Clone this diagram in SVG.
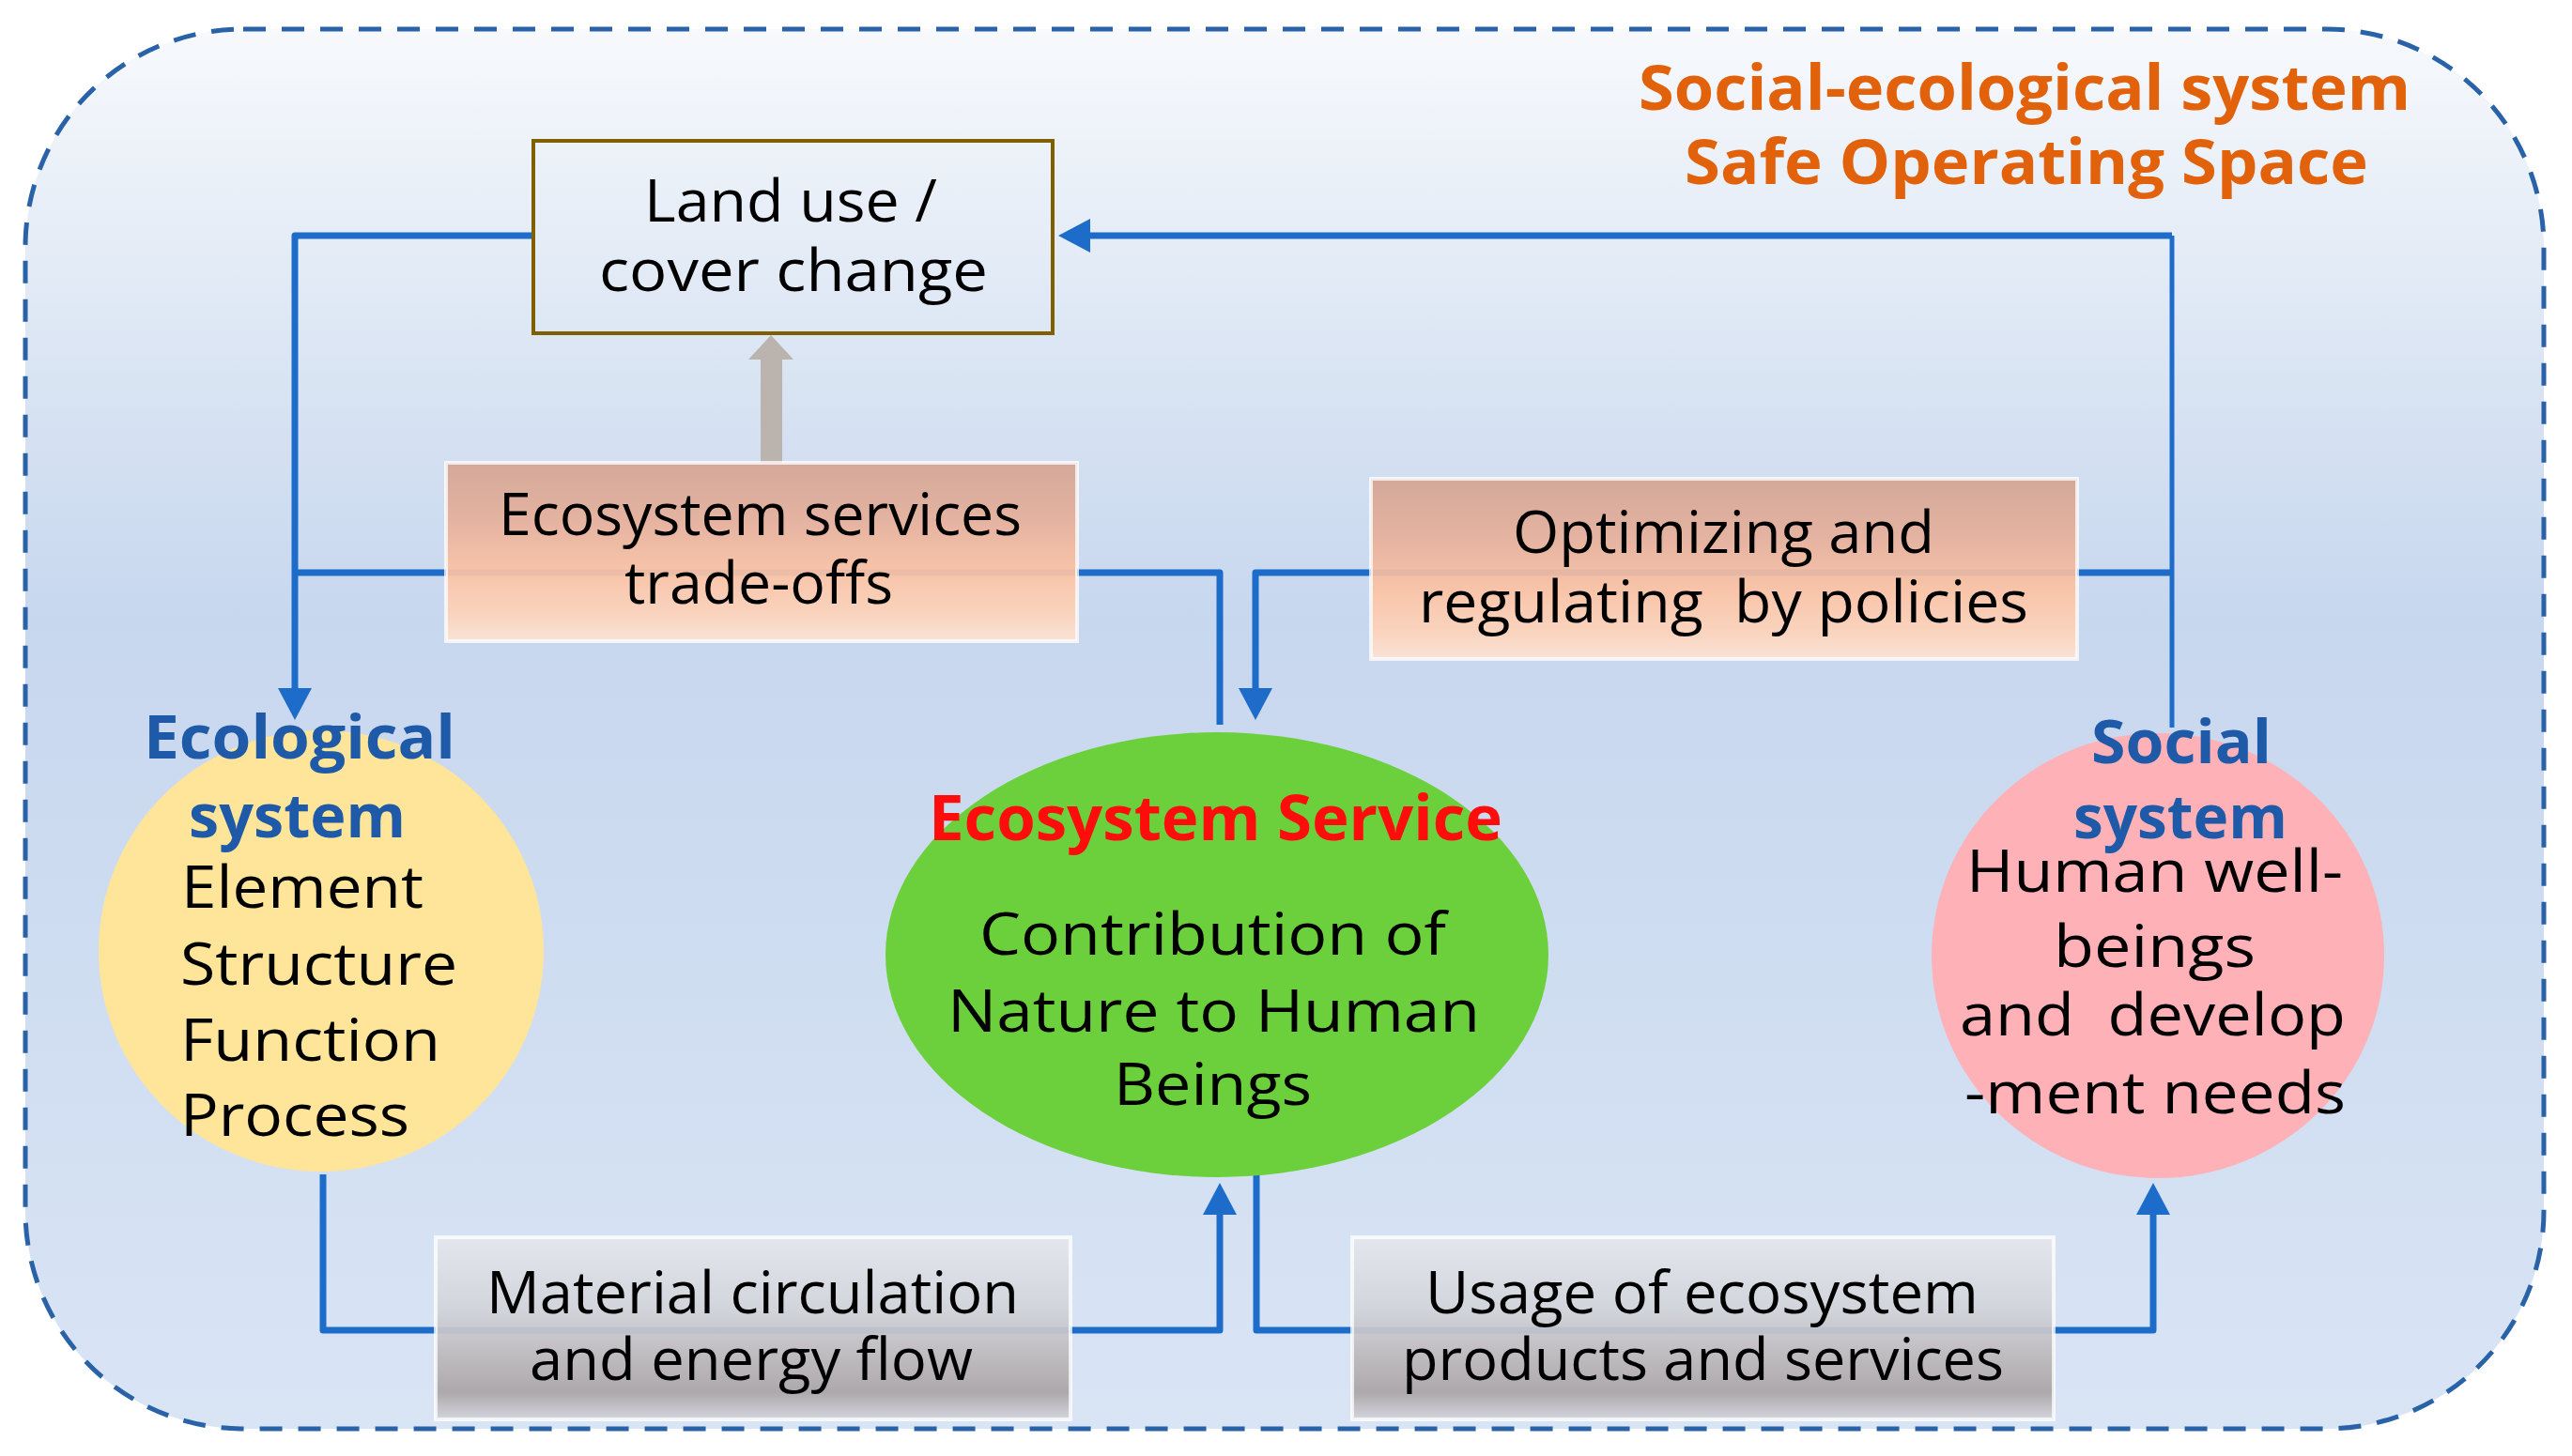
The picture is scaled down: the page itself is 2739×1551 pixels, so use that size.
<svg xmlns="http://www.w3.org/2000/svg" width="2739" height="1551" viewBox="0 0 2739 1551">
<style>
  .t { font-family: "Open Sans", "Noto Sans", "DejaVu Sans", sans-serif; font-size: 62px; fill: #000; }
  .hb { font-family: "Open Sans", "Noto Sans", "DejaVu Sans", sans-serif; font-size: 64px; font-weight: bold; fill: #1f5aa8; }
  .red { font-family: "Open Sans", "Noto Sans", "DejaVu Sans", sans-serif; font-size: 66px; font-weight: bold; fill: #ff0d0d; }
  .org { font-family: "Open Sans", "Noto Sans", "DejaVu Sans", sans-serif; font-size: 67px; font-weight: bold; fill: #e2620c; }
  .ln { fill: none; stroke: #1d6cca; stroke-width: 7; stroke-linejoin: round; }
  .ln5 { fill: none; stroke: #1d6cca; stroke-width: 5; stroke-linejoin: round; }
  .peach { fill: url(#gPeach); stroke: #ffffff; stroke-opacity: 0.75; stroke-width: 4; }
  .gray { fill: url(#gGray); stroke: #ffffff; stroke-opacity: 0.75; stroke-width: 4; }
</style>
<defs>
  <linearGradient id="gBg" gradientUnits="userSpaceOnUse" x1="0" y1="31" x2="0" y2="1522">
    <stop offset="0" stop-color="#f7f9fc"/>
    <stop offset="0.25" stop-color="#d9e4f3"/>
    <stop offset="0.42" stop-color="#c7d7ee"/>
    <stop offset="0.6" stop-color="#cddbf0"/>
    <stop offset="1" stop-color="#d9e5f5"/>
  </linearGradient>
  <linearGradient id="gPeach" x1="0" y1="0" x2="0" y2="1">
    <stop offset="0" stop-color="#d3a494" stop-opacity="0.93"/>
    <stop offset="0.35" stop-color="#e8b19b" stop-opacity="0.93"/>
    <stop offset="0.62" stop-color="#fcc3a4" stop-opacity="0.93"/>
    <stop offset="0.85" stop-color="#fdd3ba" stop-opacity="0.93"/>
    <stop offset="1" stop-color="#fde4d5" stop-opacity="0.93"/>
  </linearGradient>
  <linearGradient id="gGray" x1="0" y1="0" x2="0" y2="1">
    <stop offset="0" stop-color="#e4e7ed" stop-opacity="0.93"/>
    <stop offset="0.4" stop-color="#d1d3d9" stop-opacity="0.93"/>
    <stop offset="0.58" stop-color="#c3c0c4" stop-opacity="0.93"/>
    <stop offset="0.85" stop-color="#aaa4a5" stop-opacity="0.93"/>
    <stop offset="1" stop-color="#d2d4dc" stop-opacity="0.93"/>
  </linearGradient>
  <marker id="ah" markerUnits="userSpaceOnUse" markerWidth="36" markerHeight="36" refX="0" refY="18" orient="auto" viewBox="0 0 34 36">
    <path d="M0,0 L34,18 L0,36 Z" fill="#1d6cca"/>
  </marker>
</defs>

<g id="container">
  <rect x="27" y="31" width="2682" height="1491" rx="232" ry="232" fill="url(#gBg)" stroke="#2a62a8" stroke-width="5" stroke-dasharray="24 17"/>
</g>

<g id="connectors">
  <path class="ln" d="M568,251 H314 V733" marker-end="url(#ah)"/>
  <path class="ln" d="M314,610 H1299 V772"/>
  <path class="ln" d="M2313,610 H1337 V733" marker-end="url(#ah)"/>
  <path class="ln" d="M2313,251 H1161" marker-end="url(#ah)"/>
  <path class="ln5" d="M2313,775 V251"/>
  <path class="ln" d="M344,1251 V1417 H1299 V1294" marker-end="url(#ah)"/>
  <path class="ln" d="M1338,1252 V1417 H2293 V1294" marker-end="url(#ah)"/>
  <g id="gray-arrow" fill="#bbb3ae">
    <rect x="810" y="381" width="23" height="112"/>
    <polygon points="797,383 845,383 821,357"/>
  </g>
</g>

<g id="title">
  <text class="org" x="1745" y="117" textLength="822" lengthAdjust="spacingAndGlyphs">Social-ecological system</text>
  <text class="org" x="1794" y="196" textLength="728" lengthAdjust="spacingAndGlyphs">Safe Operating Space</text>
</g>

<g id="land-use">
  <rect x="568" y="150" width="553" height="205" fill="none" stroke="#7f5f00" stroke-width="4"/>
  <text class="t" x="686" y="236" textLength="312" lengthAdjust="spacingAndGlyphs">Land use /</text>
  <text class="t" x="638" y="310" textLength="414" lengthAdjust="spacingAndGlyphs">cover change</text>
</g>

<g id="tradeoffs">
  <rect class="peach" x="475" y="493" width="672" height="190"/>
  <text class="t" x="531" y="570" textLength="557" lengthAdjust="spacingAndGlyphs">Ecosystem services</text>
  <text class="t" x="665" y="643" textLength="286" lengthAdjust="spacingAndGlyphs">trade-offs</text>
</g>

<g id="policies">
  <rect class="peach" x="1460" y="510" width="752" height="192"/>
  <text class="t" x="1611" y="589" textLength="449" lengthAdjust="spacingAndGlyphs">Optimizing and</text>
  <text class="t" x="1511" y="663" textLength="649" lengthAdjust="spacingAndGlyphs" xml:space="preserve">regulating  by policies</text>
</g>

<g id="ecological">
  <ellipse cx="342" cy="1013" rx="237" ry="235" fill="#fee59a"/>
  <text class="hb" x="153" y="808" textLength="332" lengthAdjust="spacingAndGlyphs">Ecological</text>
  <text class="hb" x="201" y="892" textLength="231" lengthAdjust="spacingAndGlyphs">system</text>
  <text class="t" x="193" y="967" textLength="258" lengthAdjust="spacingAndGlyphs">Element</text>
  <text class="t" x="192" y="1049" textLength="295" lengthAdjust="spacingAndGlyphs">Structure</text>
  <text class="t" x="192" y="1130" textLength="277" lengthAdjust="spacingAndGlyphs">Function</text>
  <text class="t" x="192" y="1210" textLength="244" lengthAdjust="spacingAndGlyphs">Process</text>
</g>

<g id="ecosystem-service">
  <ellipse cx="1296" cy="1017" rx="353" ry="237" fill="#6cd03c"/>
  <text class="red" x="989" y="895" textLength="611" lengthAdjust="spacingAndGlyphs">Ecosystem Service</text>
  <text class="t" x="1043" y="1017" textLength="497" lengthAdjust="spacingAndGlyphs">Contribution of</text>
  <text class="t" x="1009" y="1099" textLength="567" lengthAdjust="spacingAndGlyphs">Nature to Human</text>
  <text class="t" x="1186" y="1177" textLength="211" lengthAdjust="spacingAndGlyphs">Beings</text>
</g>

<g id="social">
  <ellipse cx="2298" cy="1018" rx="241" ry="237" fill="#ffb1b8"/>
  <text class="hb" x="2227" y="813" textLength="192" lengthAdjust="spacingAndGlyphs">Social</text>
  <text class="hb" x="2208" y="893" textLength="228" lengthAdjust="spacingAndGlyphs">system</text>
  <text class="t" x="2094" y="950" textLength="401" lengthAdjust="spacingAndGlyphs">Human well-</text>
  <text class="t" x="2187" y="1030" textLength="215" lengthAdjust="spacingAndGlyphs">beings</text>
  <text class="t" x="2087" y="1103" textLength="411" lengthAdjust="spacingAndGlyphs" xml:space="preserve">and  develop</text>
  <text class="t" x="2092" y="1186" textLength="406" lengthAdjust="spacingAndGlyphs">-ment needs</text>
</g>

<g id="material">
  <rect class="gray" x="464" y="1318" width="676" height="194"/>
  <text class="t" x="518" y="1399" textLength="567" lengthAdjust="spacingAndGlyphs">Material circulation</text>
  <text class="t" x="564" y="1470" textLength="472" lengthAdjust="spacingAndGlyphs">and energy flow</text>
</g>

<g id="usage">
  <rect class="gray" x="1440" y="1318" width="747" height="194"/>
  <text class="t" x="1518" y="1399" textLength="589" lengthAdjust="spacingAndGlyphs">Usage of ecosystem</text>
  <text class="t" x="1493" y="1470" textLength="641" lengthAdjust="spacingAndGlyphs">products and services</text>
</g>
</svg>
